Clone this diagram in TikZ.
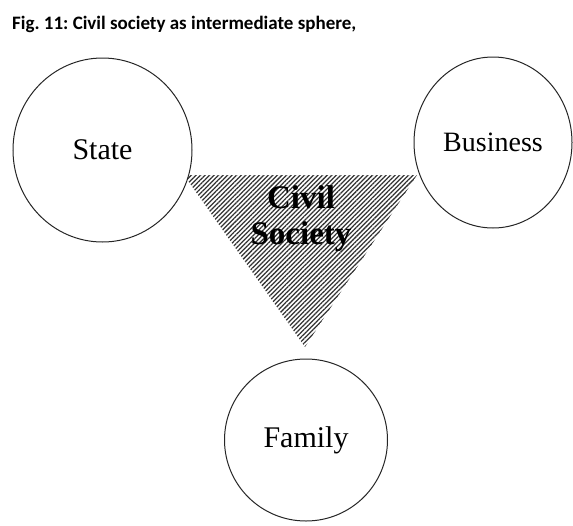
\documentclass[tikz,border=0pt]{standalone}
\usepackage{fontspec}
\setmainfont{Liberation Serif}
\newfontfamily\titlefont{Carlito}
\usetikzlibrary{shapes.geometric,patterns.meta}
\frenchspacing
\tikzset{
  sphere/.style={ellipse,draw=black!85,line width=1pt,fill=white,inner sep=0pt,
    font=\fontsize{30}{32}\selectfont},
}
\begin{document}
\begin{tikzpicture}[x=1pt,y=-1pt]
\useasboundingbox (0,0) rectangle (573,525);
% triangle
\coordinate (tl) at (184,175);
\coordinate (tr) at (417,175);
\coordinate (bt) at (305,347);
\path[pattern={Lines[angle=45,distance=3.2pt,line width=1.25pt]},pattern color=black!80]
  (tl) -- (tr) -- (bt) -- cycle;
% spheres
\node[sphere,minimum width=179pt,minimum height=184pt] (state) at (102.5,150) {State};
\node[sphere,minimum width=158pt,minimum height=171pt,font=\fontsize{28}{30}\selectfont] (business) at (493,142.5) {Business};
\node[sphere,minimum width=163pt,minimum height=162pt] (family) at (306,440) {Family};
% label
\node[font=\bfseries\fontsize{33}{36}\selectfont,align=center,inner sep=0pt] (civil) at (301,219) {Civil\\Society};
% title
\node[anchor=base west,inner sep=0pt,font=\titlefont\bfseries\fontsize{19}{22}\selectfont] (title) at (12,29.5) {Fig. 11: Civil society as intermediate sphere,};
\end{tikzpicture}
\end{document}
